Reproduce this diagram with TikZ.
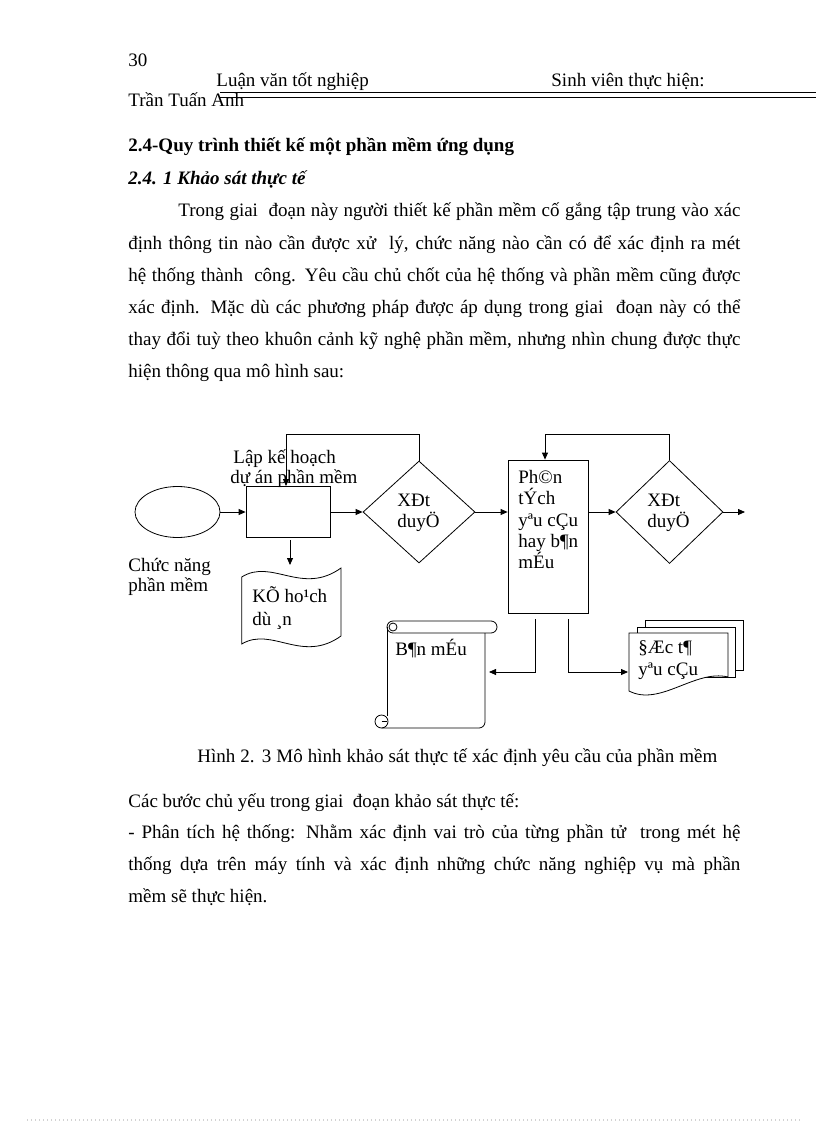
\documentclass[tikz,border=0pt]{standalone}
\usepackage{fontspec}
\setmainfont{Liberation Serif}
\usetikzlibrary{arrows.meta,shapes.geometric}
\newcommand\myfs{\fontsize{19}{22}\selectfont}
\begin{document}
\begin{tikzpicture}[x=1pt,y=-1pt,line width=0.8pt,
  txt/.style={anchor=base west,inner sep=0pt,font=\myfs},
  dtxt/.style={anchor=base west,inner sep=0pt,font=\myfs},
  arr/.style={-{Triangle[length=7pt,width=6pt]}},
  boxn/.style={draw,rectangle,inner sep=0pt},
  dia/.style={draw,diamond,inner sep=0pt},
  shp/.style={draw,fill=white}]
\useasboundingbox (0,0) rectangle (816,1123);
% header
\node[txt] (pg) at (128,67) {30};
\node[txt] (h1) at (216,87) {Luận văn tốt nghiệp};
\node[txt] (h2) at (551,87) {Sinh viên thực hiện:};
\draw (220,92.5) -- (816,92.5);
\draw (220,97) -- (816,97);
\node[txt] (h3) at (128,107) {Trần Tuấn Anh};
% headings
\node[txt,font=\myfs\bfseries] (t1) at (128,152) {2.4-Quy trình thiết kế một phần mềm ứng dụng};
\node[txt,font=\myfs\bfseries\itshape] (t2) at (128,185) {2.4. 1 Khảo sát thực tế};
% paragraph
\node[txt] (p1) at (178,217) {\makebox[562pt][s]{Trong giai\ \ đoạn này người thiết kế phần mềm cố gắng tập trung vào xác}};
\node[txt] (p2) at (128,249) {\makebox[612pt][s]{định thông tin nào cần được xử\ \ lý, chức năng nào cần có để xác định ra mét}};
\node[txt] (p3) at (128,281) {\makebox[612pt][s]{hệ thống thành\ \ công. Yêu cầu chủ chốt của hệ thống và phần mềm cũng được}};
\node[txt] (p4) at (128,313) {\makebox[612pt][s]{xác định. Mặc dù các phương pháp được áp dụng trong giai\ \ đoạn này có thể}};
\node[txt] (p5) at (128,345) {\makebox[612pt][s]{thay đổi tuỳ theo khuôn cảnh kỹ nghệ phần mềm, nhưng nhìn chung được thực}};
\node[txt] (p6) at (128,377) {hiện thông qua mô hình sau:};
% ---------------- diagram ----------------
\node[draw,ellipse,minimum width=85pt,minimum height=51pt,inner sep=0pt] (el) at (177.5,512) {};
\node[boxn,minimum width=84pt,minimum height=51pt] (r1) at (288,512) {};
\node[dia,minimum width=112pt,minimum height=102pt] (d1) at (419,512) {};
\node[boxn,minimum width=80pt,minimum height=153pt] (r2) at (548,536.5) {};
\node[dia,minimum width=107pt,minimum height=103pt] (d2) at (669.5,512) {};
% labels
\node[dtxt] (lk1) at (233,463) {Lập kế hoạch};
\node[dtxt] (lk2) at (230,483) {dự án phần mềm};
\node[dtxt] (cn1) at (128,571) {Chức năng};
\node[dtxt] (cn2) at (128,591) {phần mềm};
\node[dtxt] (x1a) at (397,506) {XÐt};
\node[dtxt] (x1b) at (397,527) {duyÖ};
\node[dtxt] (x2a) at (647,506) {XÐt};
\node[dtxt] (x2b) at (647,527) {duyÖ};
\node[dtxt] (pt1) at (518,483) {Ph©n};
\node[dtxt] (pt2) at (518,504) {tÝch};
\node[dtxt] (pt3) at (518,526) {yªu cÇu};
\node[dtxt] (pt4) at (518,547) {hay b¶n};
\node[dtxt] (pt5) at (518,568) {mÉu};
% connectors main row
\draw[arr] (el.east) -- (el.east -| r1.west);
\draw[arr] (r1.east) -- (d1.west);
\draw[arr] (d1.east) -- (d1.east -| r2.west);
\draw[arr] (d2.west -| r2.east) -- (d2.west);
\coordinate (out) at (745,512);
\draw[arr] (d2.east) -- (out);
% feedback loops
\coordinate (fb1) at (286,486);
\draw[arr] (d1.north) -- (d1.north |- 0,434) -| (fb1);
\draw[arr] (d2.north) -- (d2.north |- 0,434) -| ([xshift=-3pt]r2.north);
% document: Ke hoach du an
\coordinate (k1) at (290,540);
\coordinate (k2) at (290,565);
\draw[arr] (k1) -- (k2);
\draw[shp] (241.7,577) .. controls (272,558) and (302,596) .. (341,568)
  -- (341,636) .. controls (302,664) and (272,626) .. (241.7,644) -- cycle;
\node[dtxt] (kh1) at (252,602) {KÕ ho¹ch};
\node[dtxt] (kh2) at (252,625) {dù ¸n};
% scroll: Ban mau
\draw[shp,rounded corners=6pt] (387,621) rectangle (497,633);
\draw (393,627) circle (4);
\draw (387,627) -- (387,716);
\draw (485,633) -- (485,722) arc[start angle=0,end angle=90,radius=6] -- (381.5,728);
\draw (381.5,721.5) circle (6.5);
\draw (381.5,721.5) -- (387,721.5);
\node[dtxt] (bm) at (395,655) {B¶n mÉu};
% multi document
\draw[shp] (645,620) rectangle (743,670);
\draw[shp] (637,627) rectangle (735,677);
\draw[shp] (629,633) -- (728,633) -- (728,677) .. controls (695,669) and (660,707) .. (629,691) -- cycle;
\node[dtxt] (dt1) at (638,653) {§Æc t¶};
\node[dtxt] (dt2) at (638,675) {yªu cÇu};
% outputs of r2
\coordinate (s1) at ([xshift=-13pt,yshift=-6pt]r2.south);
\coordinate (s2) at ([xshift=20pt,yshift=-6pt]r2.south);
\coordinate (e1) at (489,672);
\coordinate (e2) at (628,672);
\draw[arr] (s1) |- (e1);
\draw[arr] (s2) |- (e2);
% caption and text
\node[txt] (cap) at (197,762) {\makebox[520pt][s]{Hình 2. 3 Mô hình khảo sát thực tế xác định yêu cầu của phần mềm}};
\node[txt] (q1) at (128,807) {Các bước chủ yếu trong giai\ \ đoạn khảo sát thực tế:};
\node[txt] (q2) at (128,838) {\makebox[612pt][s]{- Phân tích hệ thống: Nhằm xác định vai trò của từng phần tử\ \ trong mét hệ}};
\node[txt] (q3) at (128,870) {\makebox[612pt][s]{thống dựa trên máy tính và xác định những chức năng nghiệp vụ mà phần}};
\node[txt] (q4) at (128,902) {mềm sẽ thực hiện.};
\draw[gray!35,line width=1.2pt,dash pattern=on 1.2pt off 2.8pt] (27,1120) -- (800,1120);
\end{tikzpicture}
\end{document}
